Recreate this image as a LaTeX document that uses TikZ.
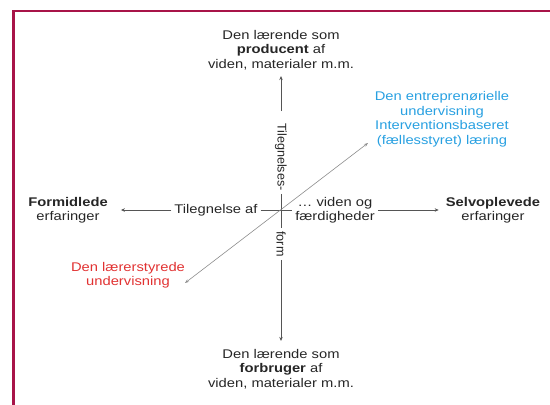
\documentclass[tikz,border=0pt]{standalone}
\usepackage{fontspec}
\setmainfont{Liberation Sans}[FakeStretch=1.17]
\newfontfamily\rotfont{Liberation Sans}
\usetikzlibrary{arrows.meta}
\definecolor{framered}{RGB}{168,20,72}
\definecolor{entreblue}{RGB}{40,160,225}
\definecolor{laererred}{RGB}{225,50,50}
\definecolor{axisgray}{RGB}{85,85,85}
\definecolor{diaggray}{RGB}{140,140,140}
\begin{document}
\begin{tikzpicture}[x=1pt,y=-1pt,
		lbl/.style={font=\fontsize{12.6}{14.5}\selectfont,align=center,inner sep=3pt,text=black!85},
		rotlbl/.style={lbl,font=\rotfont\fontsize{12.6}{14.5}\selectfont,rotate=-90},
		axis/.style={draw=axisgray,line width=0.8pt},
		arr/.style={axis,-{Stealth[length=4pt,width=3.5pt]}},
		diag/.style={draw=diaggray,line width=0.6pt,{Stealth[length=4pt,width=3pt]}-{Stealth[length=4pt,width=3pt]}}]
		\useasboundingbox (0,0) rectangle (550,405);
		\draw[framered,line width=2.5pt] (13.5,405)--(13.5,11)--(550,11);
		\node[lbl] (prod) at (281,50){Den lærende som\\\textbf{producent} af\\viden, materialer m.m.};
		\node[lbl] (forb) at (281,369){Den lærende som\\\textbf{forbruger} af\\viden, materialer m.m.};
		\node[lbl] (formid) at (68,210){\textbf{Formidlede}\\erfaringer};
		\node[lbl] (selv) at (493,210){\textbf{Selvoplevede}\\erfaringer};
		\node[lbl] (tilaf) at (216,210){Tilegnelse af};
		\node[lbl] (viden) at (335,210){… viden og\\færdigheder};
		\node[rotlbl] (tilform) at (281,157){Tilegnelses-};
		\node[rotlbl] (formlbl) at (281,244){form};
		\node[lbl,text=entreblue] (entre) at (442,119){Den entreprenørielle\\undervisning\\Interventionsbaseret\\(fællesstyret) læring};
		\node[lbl,text=laererred] (laerer) at (128,275){Den lærerstyrede\\undervisning};
		\coordinate (lo) at (185,283);
		\coordinate (hi) at (368,143);
		\draw[arr,shorten <=9pt,shorten >=3pt] (tilform)--(prod);
		\draw[axis] (tilform)--(formlbl);
		\draw[arr,shorten >=5pt] (formlbl)--(forb);
		\draw[arr,shorten >=10pt] (tilaf)--(formid);
		\draw[axis] (tilaf)--(viden);
		\draw[arr,shorten >=4pt] (viden)--(selv);
		\draw[diag] (lo)--(hi);
	\end{tikzpicture}
\end{document}
